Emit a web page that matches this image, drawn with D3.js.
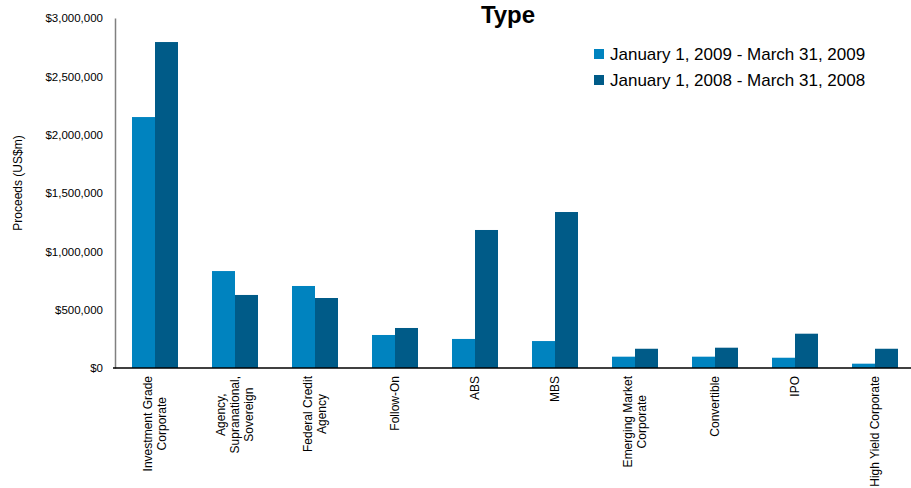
<!DOCTYPE html>
<html>
<head>
<meta charset="utf-8">
<script src="https://cdn.jsdelivr.net/npm/d3@7"></script>
<style>
body { margin: 0; background: #fff; }
text { font-family: "Liberation Sans", Arial, sans-serif; }
</style>
</head>
<body>
<div id="chart"></div>
<script>
var categories = [
	["Investment Grade", "Corporate"],
	["Agency,", "Supranational,", "Sovereign"],
	["Federal Credit", "Agency"],
	["Follow-On"],
	["ABS"],
	["MBS"],
	["Emerging Market", "Corporate"],
	["Convertible"],
	["IPO"],
	["High Yield Corporate"]
];
var series = ["January 1, 2009 - March 31, 2009", "January 1, 2008 - March 31, 2008"];
var values2009 = [2151000, 831000, 703000, 283000, 249000, 231000, 97000, 97000, 88000, 37000];
var values2008 = [2794000, 626000, 600000, 343000, 1183000, 1337000, 165000, 174000, 294000, 165000];
var yTicks = [0, 500000, 1000000, 1500000, 2000000, 2500000, 3000000];
var colors = ["#0083bf", "#005b88"];

var width = 911, height = 488;
var svg = d3.select("#chart")
	.append("svg")
	.attr("width", width)
	.attr("height", height);

var keys = categories.map(function (c, i) { return "c" + i; });

var x0 = d3.scaleBand()
	.domain(keys)
	.range([115, 915])
	.paddingInner(0.425)
	.paddingOuter(0.2125);
var x1 = d3.scaleBand()
	.domain([0, 1])
	.range([0, x0.bandwidth()]);
var y = d3.scaleLinear()
	.domain([0, 3000000])
	.range([368, 18]);

// y axis
var yAxis = svg.append("g")
	.attr("transform", "translate(115,0)")
	.call(d3.axisLeft(y).tickValues(yTicks).tickSize(0).tickPadding(12)
		.tickFormat(function (d) { return "$" + d3.format(",")(d); }));
yAxis.select(".domain").attr("stroke", "#808080").attr("stroke-width", 1.5);
yAxis.selectAll("text")
	.attr("font-size", "11.5px")
	.attr("fill", "#000")
	.style("font-family", "'Liberation Sans', Arial, sans-serif");

svg.append("text")
	.attr("transform", "translate(22,183) rotate(-90)")
	.attr("text-anchor", "middle")
	.attr("font-size", "12px")
	.text("Proceeds (US$m)");

// bars
var rows = keys.map(function (k, i) { return { key: k, vals: [values2009[i], values2008[i]] }; });
var groups = svg.selectAll(".grp")
	.data(rows)
	.enter().append("g")
	.attr("class", "grp")
	.attr("transform", function (d) { return "translate(" + x0(d.key) + ",0)"; });
groups.selectAll("rect")
	.data(function (d) { return d.vals.map(function (v, j) { return { j: j, v: v }; }); })
	.enter().append("rect")
	.attr("x", function (d) { return x1(d.j); })
	.attr("width", x1.bandwidth())
	.attr("y", function (d) { return y(d.v); })
	.attr("height", function (d) { return y(0) - y(d.v); })
	.attr("fill", function (d) { return colors[d.j]; });

// x axis line
svg.append("line")
	.attr("x1", 113).attr("x2", width)
	.attr("y1", y(0)).attr("y2", y(0))
	.attr("stroke", "#000")
	.attr("stroke-width", 1.5);

// x labels, rotated, top aligned block with centered lines
var lineH = 14;
keys.forEach(function (k, i) {
	var lines = categories[i];
	var cx = x0(k) + x0.bandwidth() / 2;
	var g = svg.append("g");
	var texts = lines.map(function (l) {
		return g.append("text").attr("font-size", "12px").attr("text-anchor", "middle").text(l);
	});
	var maxW = d3.max(texts, function (t) { return t.node().getComputedTextLength(); });
	var top = 376;
	texts.forEach(function (t, j) {
		var lx = cx + (j - (lines.length - 1) / 2) * lineH + 4;
		t.attr("transform", "translate(" + lx + "," + (top + maxW / 2) + ") rotate(-90)");
	});
});

// title
svg.append("text")
	.attr("x", 508).attr("y", 23)
	.attr("text-anchor", "middle")
	.attr("font-size", "24px")
	.attr("font-weight", "bold")
	.text("Type");

// legend
var legend = svg.selectAll(".leg")
	.data(series)
	.enter().append("g")
	.attr("class", "leg")
	.attr("transform", function (d, i) { return "translate(594," + (49 + i * 26) + ")"; });
legend.append("rect")
	.attr("width", 10).attr("height", 10)
	.attr("fill", function (d, i) { return colors[i]; });
legend.append("text")
	.attr("x", 16).attr("y", 11)
	.attr("font-size", "17px")
	.text(function (d) { return d; });
</script>
</body>
</html>
